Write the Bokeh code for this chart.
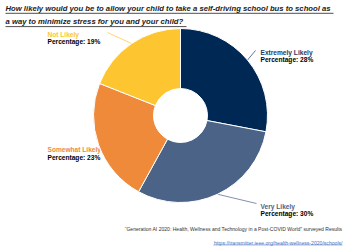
import math
from bokeh.plotting import figure
from bokeh.models import ColumnDataSource, Range1d
from bokeh.core.properties import value
from bokeh.embed import file_html
from bokeh.resources import INLINE

categories = ["Extremely Likely", "Very Likely", "Somewhat Likely", "Not Likely"]
percentages = [28, 30, 23, 19]
colors = ["#002855", "#4B6386", "#EE8A3A", "#FDC530"]
label_colors = ["#1F3864", "#4B6386", "#EE8A3A", "#FDC530"]
title_lines = ["How likely would you be to allow your child to take a self-driving school bus to school as",
               "a way to minimize stress for you and your child?"]
source_note = "\u201cGeneration AI 2020: Health, Wellness and Technology in a Post-COVID World\u201d surveyed Results"
url_text = "https://transmitter.ieee.org/health-wellness-2020/schools/"

W, H = 352, 250
CX, CY = 180, H - 115
R_OUT, R_IN = 87, 27
# label anchor positions (top-left, px from top)
label_pos = [(260, 48), (260, 202), (47, 145.5), (47, 30)]
line_end = [(255, 50), (256, 203), (101, 144), (107, 32)]

total = sum(percentages)
starts, ends, mids = [], [], []
cum = 0.0
for v in percentages:
    a0 = math.pi / 2 - 2 * math.pi * cum / total
    cum += v
    a1 = math.pi / 2 - 2 * math.pi * cum / total
    starts.append(a0); ends.append(a1); mids.append((a0 + a1) / 2)

p = figure(width=W, height=H, x_range=Range1d(0, W), y_range=Range1d(0, H),
           output_backend="svg", toolbar_location=None, min_border=0)
p.axis.visible = False
p.grid.visible = False
p.outline_line_color = None
p.background_fill_color = "white"

# labels (drawn first so the pie overlaps them as in the reference)
lx = [q[0] for q in label_pos]
ly = [H - q[1] for q in label_pos]
p.text(x=lx, y=ly, text=categories, text_color=label_colors, text_font=value("Liberation Sans"),
       text_font_size="6.6px", text_font_style="bold", text_baseline="top", text_align="left")
p.text(x=lx, y=[y - 7.5 for y in ly], text=["Percentage: %d%%" % v for v in percentages],
       text_color="black", text_font=value("Liberation Sans"),
       text_font_size="6.6px", text_font_style="bold", text_baseline="top", text_align="left")

# leader lines from slice mid edge to label
x0 = [CX + R_OUT * math.cos(m) for m in mids]
y0 = [CY + R_OUT * math.sin(m) for m in mids]
p.segment(x0=x0, y0=y0, x1=[q[0] for q in line_end], y1=[H - q[1] for q in line_end],
          line_color=label_colors, line_width=0.7)

src = ColumnDataSource(dict(start=starts, end=ends, color=colors, cat=categories))
p.annular_wedge(x=CX, y=CY, inner_radius=R_IN, outer_radius=R_OUT, start_angle="start",
                end_angle="end", direction="clock", fill_color="color", line_color="white",
                line_width=1, source=src)

# title
p.text(x=[5, 5], y=[H - 3, H - 16.3], text=title_lines, text_color="#222222",
       text_font=value("Liberation Sans"), text_font_size="7.7px", text_font_style="bold italic",
       text_baseline="top", text_align="left")
p.segment(x0=[5, 5], y0=[H - 12.8, H - 26.1], x1=[333, 186], y1=[H - 12.8, H - 26.1],
          line_color="#222222", line_width=0.8)

# footer
p.text(x=[342], y=[H - 228], text=[source_note], text_color="#333333",
       text_font=value("Liberation Sans"), text_font_size="5.05px", text_baseline="middle",
       text_align="right")
p.text(x=[342], y=[H - 242], text=[url_text], text_color="#4472C4",
       text_font=value("Liberation Sans"), text_font_size="5.1px", text_baseline="middle",
       text_align="right")
p.segment(x0=[213], y0=[H - 244.5], x1=[342], y1=[H - 244.5], line_color="#4472C4", line_width=0.5)

open("out.html", "w").write(file_html(p, INLINE))
